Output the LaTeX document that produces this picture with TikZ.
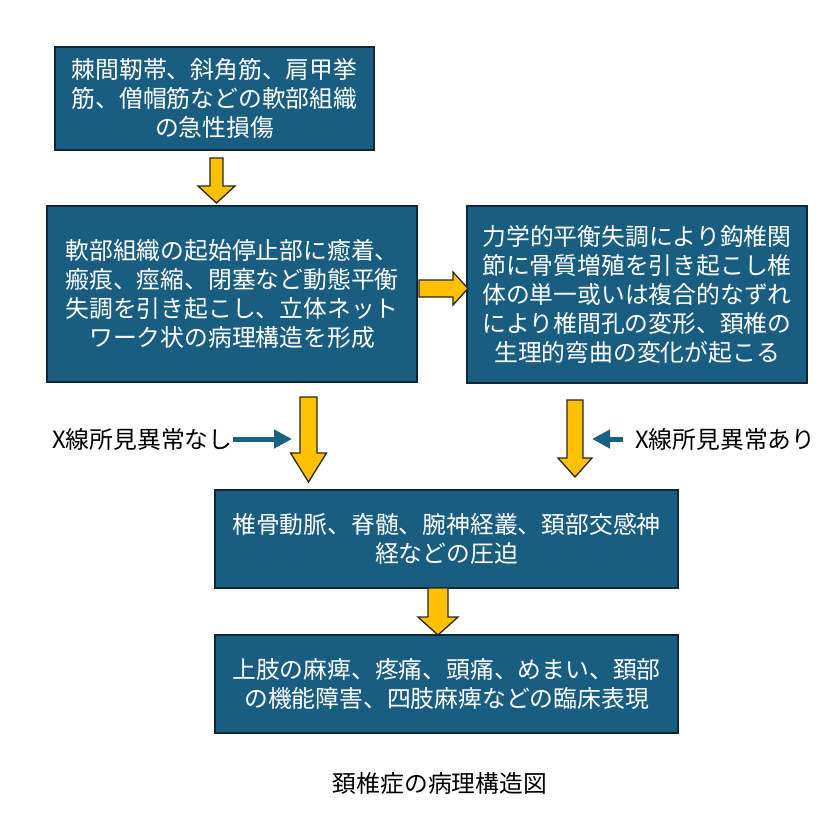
\documentclass[tikz,border=0pt]{standalone}
\usepackage{fontspec}
\newfontfamily\jp{Noto Sans CJK JP}
\usetikzlibrary{arrows.meta}
\definecolor{boxfill}{RGB}{25,93,128}
\definecolor{boxline}{RGB}{14,40,58}
\definecolor{arrowfill}{RGB}{255,192,0}
\definecolor{arrowline}{RGB}{40,40,30}
\definecolor{pointer}{RGB}{26,96,128}
\tikzset{
 box/.style={draw=boxline, line width=2.2pt, fill=boxfill, text=white, font=\jp\fontsize{23.8}{29}\selectfont, align=center, inner sep=0pt},
 blockarrow/.style={draw=arrowline, line width=1.3pt, fill=arrowfill, line join=miter},
 pointerarrow/.style={draw=pointer, line width=5pt, -{Triangle[length=18pt,width=18pt]}},
 sidelabel/.style={font=\jp\fontsize{23.8}{29}\selectfont, text=black, inner sep=0pt}
}
\newcommand\blockdown[6]{%
 \draw[blockarrow] (#1-#5,#2) -- (#1+#5,#2) -- (#1+#5,#3) -- (#1+#6,#3) -- (#1,#4) -- (#1-#6,#3) -- (#1-#5,#3) -- cycle;}
\begin{document}
\begin{tikzpicture}[x=1pt,y=-1pt]
\useasboundingbox[fill=white] (0,0) rectangle (832,832);

\node[box, minimum width=319pt, minimum height=103pt] (A) at (214.5,98.5) {棘間靭帯、斜角筋、肩甲挙\\筋、僧帽筋などの軟部組織\\の急性損傷};
\node[box, minimum width=370pt, minimum height=176pt] (B) at (232,294) {軟部組織の起始停止部に癒着、\\瘢痕、痙縮、閉塞など動態平衡\\失調を引き起こし、立体ネット\\ワーク状の病理構造を形成};
\node[box, minimum width=340pt, minimum height=177pt] (C) at (637,294.5) {力学的平衡失調により鈎椎関\\節に骨質増殖を引き起こし椎\\体の単一或いは複合的なずれ\\により椎間孔の変形、頚椎の\\生理的弯曲の変化が起こる};
\node[box, minimum width=463pt, minimum height=98pt] (D) at (446.5,539) {椎骨動脈、脊髄、腕神経叢、頚部交感神\\経などの圧迫};
\node[box, minimum width=463pt, minimum height=98pt] (E) at (446.5,684) {上肢の麻痺、疼痛、頭痛、めまい、頚部\\の機能障害、四肢麻痺などの臨床表現};

% block arrows
\blockdown{216.5}{158}{186}{203}{6.5}{18.5}
\draw[blockarrow] (419,280) -- (453,280) -- (453,272) -- (468,288.5) -- (453,305) -- (453,297) -- (419,297) -- cycle;
\blockdown{308.5}{397}{453}{482}{8.5}{18}
\blockdown{575}{400}{458}{477}{8}{17}
\blockdown{438}{588}{617}{635}{10}{20}

% side labels and pointers
\node[sidelabel, anchor=west] (L1) at (52,439) {X線所見異常なし};
\coordinate (P1) at (292,439);
\draw[pointerarrow] (L1.east) -- (P1);
\node[sidelabel, anchor=west] (L2) at (635,439) {X線所見異常あり};
\coordinate (P2) at (592,439);
\draw[pointerarrow] ([xshift=-12pt]L2.west) -- (P2);

\node[sidelabel] (cap) at (440,783) {頚椎症の病理構造図};
\end{tikzpicture}
\end{document}
